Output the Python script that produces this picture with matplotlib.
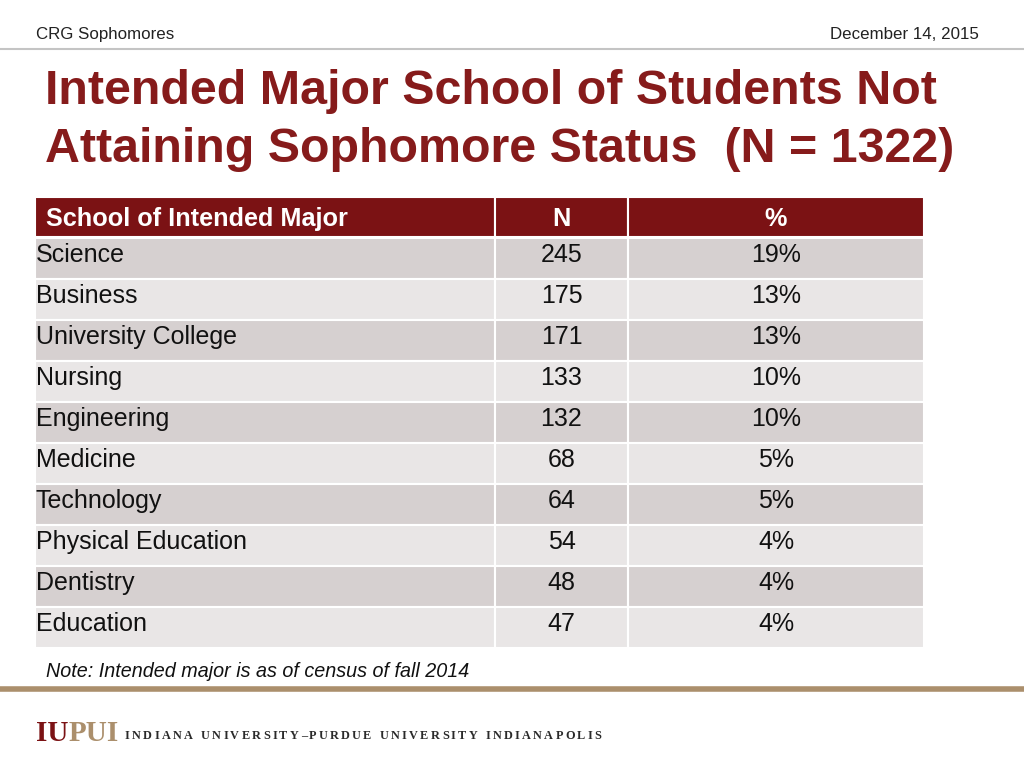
import matplotlib
matplotlib.use("Agg")
import matplotlib.pyplot as plt
from matplotlib.patches import Rectangle

# table data
schools = ["Science", "Business", "University College", "Nursing", "Engineering",
           "Medicine", "Technology", "Physical Education", "Dentistry", "Education"]
counts = [245, 175, 171, 133, 132, 68, 64, 54, 48, 47]
percents = [19, 13, 13, 10, 10, 5, 5, 4, 4, 4]
headers = ["School of Intended Major", "N", "%"]

SANS = ["Liberation Sans", "DejaVu Sans"]
SERIF = ["Liberation Serif", "DejaVu Serif"]
plt.rcParams['font.family'] = SANS

RED = "#7b1214"
TITLE_RED = "#861b1b"
TAN = "#ab8f6c"

fig = plt.figure(figsize=(10.24, 7.68), dpi=100)
ax = fig.add_axes([0, 0, 1, 1])
ax.set_xlim(0, 1024)
ax.set_ylim(768, 0)
ax.axis("off")
renderer = fig.canvas.get_renderer()

# header strip
ax.text(36, 39, "CRG Sophomores", fontsize=12.2, va="baseline", ha="left",
        color="#222222", family=SANS)
ax.text(979, 39, "December 14, 2015", fontsize=12.2, va="baseline", ha="right",
        color="#222222", family=SANS)
ax.plot([0, 1024], [49, 49], color="#c4c4c4", lw=1.5)

# title
ax.text(45, 104, "Intended Major School of Students Not", fontsize=34.8, fontweight="bold",
        color=TITLE_RED, va="baseline", ha="left", family=SANS)
ax.text(45, 162, "Attaining Sophomore Status  (N = 1322)", fontsize=34.8, fontweight="bold",
        color=TITLE_RED, va="baseline", ha="left", family=SANS)

# table geometry
col_x = [35, 495, 628, 924]
top = 197
head_h = 40
row_h = 41

for j, h in enumerate(headers):
    ax.add_patch(Rectangle((col_x[j], top), col_x[j + 1] - col_x[j], head_h,
                           facecolor=RED, edgecolor="white", lw=1.5))
    if j == 0:
        ax.text(col_x[j] + 11, top + 29, h, color="white", fontsize=18.2,
                fontweight="bold", va="baseline", ha="left", family=SANS)
    else:
        ax.text((col_x[j] + col_x[j + 1]) / 2, top + 29, h, color="white",
                fontsize=18.2, fontweight="bold", va="baseline", ha="center", family=SANS)

for i, (name, n, p) in enumerate(zip(schools, counts, percents)):
    y0 = top + head_h + 1 + i * row_h
    fc = "#d6d0d0" if i % 2 == 0 else "#e9e6e6"
    for j in range(3):
        ax.add_patch(Rectangle((col_x[j], y0), col_x[j + 1] - col_x[j], row_h,
                               facecolor=fc, edgecolor="white", lw=1.5))
    yb = y0 + 24
    ax.text(36, yb, name, fontsize=18, va="baseline", ha="left", color="#111111", family=SANS)
    ax.text((col_x[1] + col_x[2]) / 2, yb, str(n), fontsize=18, va="baseline", ha="center",
            color="#111111", family=SANS)
    ax.text((col_x[2] + col_x[3]) / 2, yb, f"{p}%", fontsize=18, va="baseline", ha="center",
            color="#111111", family=SANS)

# note
ax.text(46, 677, "Note: Intended major is as of census of fall 2014", fontsize=14.2,
        style="italic", va="baseline", ha="left", color="#111111", family=SANS)
ax.plot([0, 1024], [689, 689], color=TAN, lw=4)

# footer logo
iu = ax.text(36, 741, "IU", fontsize=21, fontweight="bold", family=SERIF,
             color=RED, va="baseline", ha="left")
x = 36 + iu.get_window_extent(renderer).width
ax.text(x, 741, "PUI", fontsize=21, fontweight="bold", family=SERIF,
        color=TAN, va="baseline", ha="left")

x = 125
for ch in "INDIANA UNIVERSITY–PURDUE UNIVERSITY INDIANAPOLIS":
    if ch == " ":
        x += 6
        continue
    t = ax.text(x, 739, ch, fontsize=8.8, family=SERIF, color="#2a2a2a",
                va="baseline", ha="left", fontweight="bold")
    x += t.get_window_extent(renderer).width + 2.25

fig.savefig("out.png", dpi=100)
